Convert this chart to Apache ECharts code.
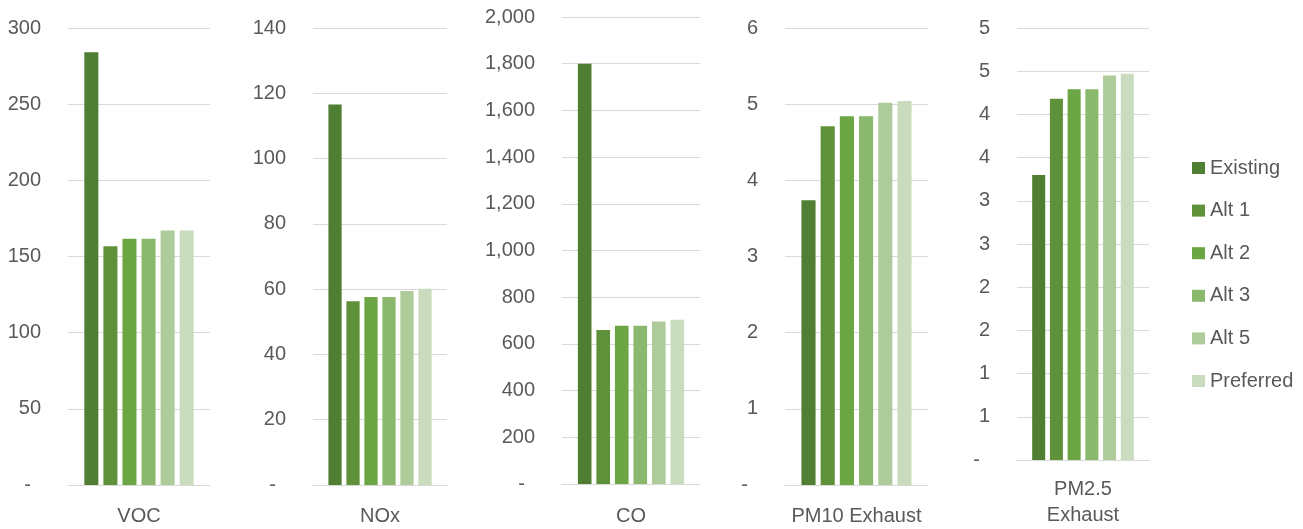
<!DOCTYPE html>
<html>
<head>
<meta charset="utf-8">
<script src="https://cdn.jsdelivr.net/npm/echarts@6/dist/echarts.min.js"></script>
<style>
html,body{margin:0;padding:0;background:#fff;}
#chart{width:1303px;height:529px;}
</style>
</head>
<body>
<div id="chart"></div>
<script>
// Data
const categories = ['VOC', 'NOx', 'CO', 'PM10 Exhaust', 'PM2.5\nExhaust'];
const seriesNames = ['Existing', 'Alt 1', 'Alt 2', 'Alt 3', 'Alt 5', 'Preferred'];
const existing  = [284,   116.6, 1800, 3.74, 3.30];
const alt1      = [156.7, 56.3,  659,  4.71, 4.18];
const alt2      = [161.6, 57.6,  678,  4.84, 4.29];
const alt3      = [161.6, 57.6,  678,  4.84, 4.29];
const alt5      = [167,   59.4,  696,  5.02, 4.45];
const preferred = [167,   60.1,  703,  5.04, 4.47];
const yMax      = [300, 140, 2000, 6, 5];
const yInterval = [50, 20, 200, 1, 0.5];

const seriesValues = [existing, alt1, alt2, alt3, alt5, preferred];
const colors = ['#507e32', '#5f913a', '#6ba544', '#8ab96e', '#aecb9a', '#c9dcbd'];
const FONT = '"Liberation Sans", Arial, sans-serif';
const TXT = '#595959';
const GRIDC = '#d9d9d9';

const grids = [
  {left: 68,  top: 28, width: 142, height: 460},
  {left: 313, top: 28, width: 134, height: 460},
  {left: 562, top: 17, width: 138, height: 469},
  {left: 785, top: 28, width: 143, height: 460},
  {left: 1017, top: 28, width: 132, height: 432}
];
const catMargins = [18, 18, 19, 18, 16];

function fmt(v, g) {
  if (v === 0) return '{z|-}';
  if (g === 4) return String(Math.round(v));
  return Math.round(v).toLocaleString('en-US');
}

const xAxes = categories.map((c, g) => ({
  type: 'category', gridIndex: g, data: [c],
  axisLine: {show: true, lineStyle: {color: GRIDC, width: 1}},
  axisTick: {show: false},
  axisLabel: {color: TXT, fontSize: 20, fontFamily: FONT, lineHeight: 26, margin: catMargins[g]}
}));
const yAxes = yMax.map((m, g) => ({
  type: 'value', gridIndex: g, min: 0, max: m, interval: yInterval[g],
  axisLine: {show: false}, axisTick: {show: false},
  splitLine: {show: true, lineStyle: {color: GRIDC, width: 1}},
  axisLabel: {
    color: TXT, fontSize: 20, fontFamily: FONT, margin: 27,
    formatter: v => fmt(v, g),
    rich: {z: {color: TXT, fontSize: 20, fontFamily: FONT, padding: [0, 10, 0, 0]}}
  }
}));

const series = [];
categories.forEach((c, g) => {
  seriesNames.forEach((n, s) => {
    series.push({
      type: 'bar', name: n, xAxisIndex: g, yAxisIndex: g,
      data: [seriesValues[s][g]],
      itemStyle: {color: colors[s]},
      barGap: '36%', barCategoryGap: '23%'
    });
  });
});

const chart = echarts.init(document.getElementById('chart'), null, {renderer: 'canvas'});
chart.setOption({
  animation: false,
  backgroundColor: '#ffffff',
  grid: grids,
  xAxis: xAxes,
  yAxis: yAxes,
  legend: {
    data: seriesNames, orient: 'vertical', left: 1187, top: 153,
    icon: 'rect', itemWidth: 13, itemHeight: 12, itemGap: 22.6,
    textStyle: {color: TXT, fontSize: 20, fontFamily: FONT, lineHeight: 20}
  },
  series: series
});
</script>
</body>
</html>
